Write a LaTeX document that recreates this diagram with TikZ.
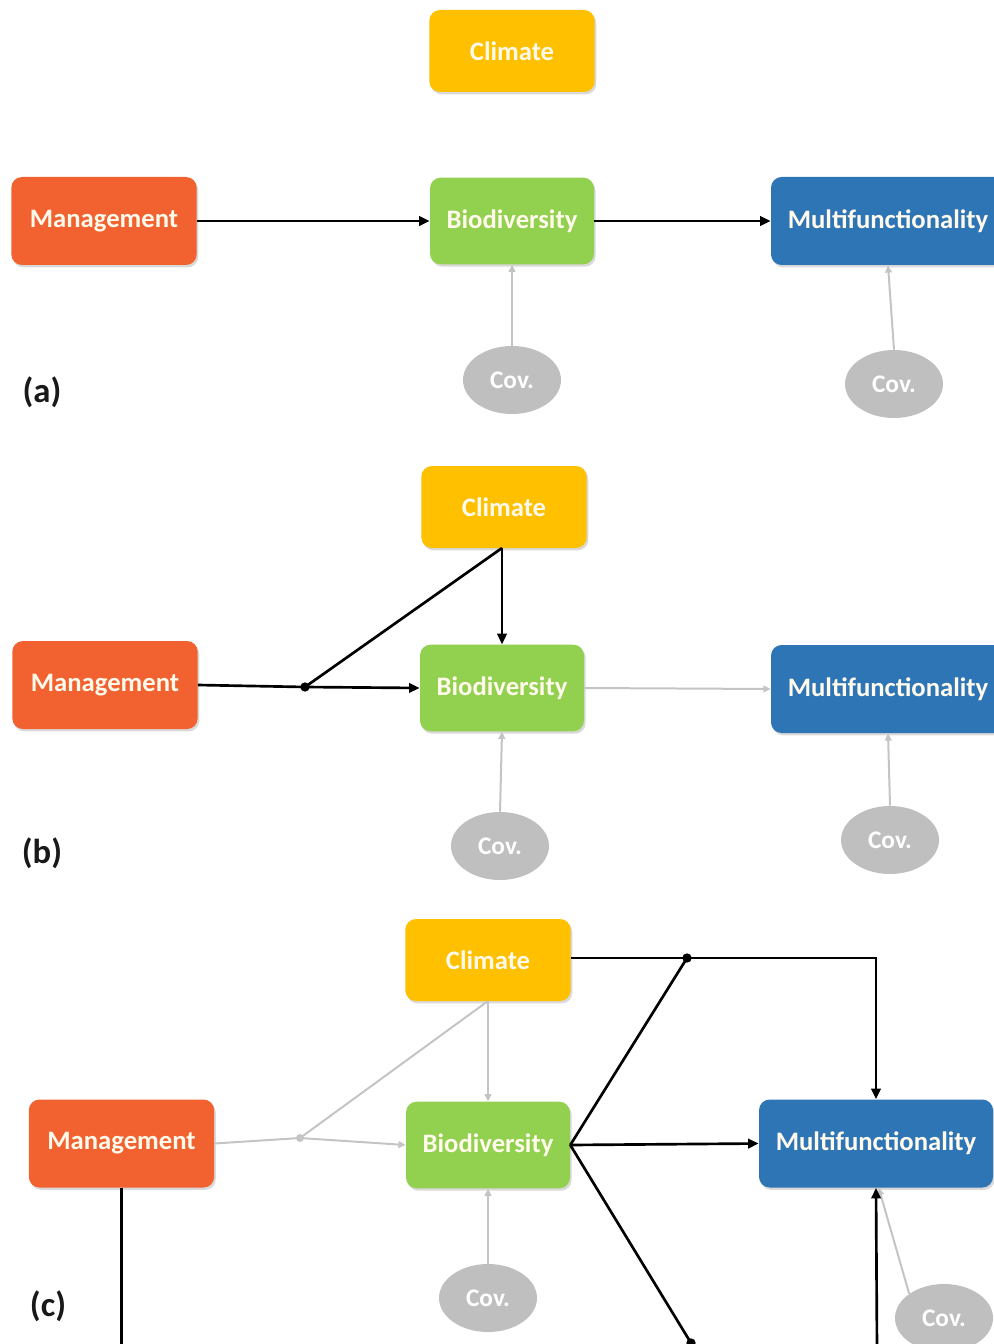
\documentclass[tikz,border=0pt]{standalone}
\usepackage{fontspec}
\setmainfont{Carlito}
\usetikzlibrary{arrows.meta,shapes.geometric,shadows}
\definecolor{mgmtcol}{RGB}{242,98,48}
\definecolor{climcol}{RGB}{255,192,0}
\definecolor{biocol}{RGB}{146,208,80}
\definecolor{multcol}{RGB}{46,117,182}
\definecolor{covcol}{RGB}{191,191,191}
\definecolor{lgray}{RGB}{196,196,196}
\definecolor{boxtext}{RGB}{255,250,235}
\begin{document}
\begin{tikzpicture}[x=0.75pt,y=-0.75pt,
  box/.style={rounded corners=8pt, minimum height=65pt, inner sep=0pt, text=boxtext,
    font=\bfseries\fontsize{20}{24}\selectfont,
    drop shadow={shadow xshift=1.2pt,shadow yshift=-1.8pt,opacity=0.3}},
  climbox/.style={box, fill=climcol, minimum width=124pt, minimum height=61.5pt},
  mgmtbox/.style={box, fill=mgmtcol, minimum width=139pt, minimum height=66pt},
  biobox/.style={box, fill=biocol, minimum width=123pt},
  multbox/.style={box, fill=multcol, minimum width=175.5pt, minimum height=66pt},
  cov/.style={ellipse, fill=covcol, minimum width=73.5pt, minimum height=51pt, inner sep=0pt,
    text=white, font=\bfseries\fontsize{19}{22}\selectfont},
  plabel/.style={font=\bfseries\fontsize{26}{30}\selectfont, text=black!90},
  blk/.style={draw=black, line width=2pt},
  blkarr/.style={blk, -{Triangle[length=8pt,width=7pt]}},
  gry/.style={draw=lgray, line width=1.5pt},
  gryarr/.style={gry, -{Triangle[length=5.5pt,width=5pt]}},
  jdot/.style={circle, fill=black, inner sep=0pt, minimum size=7pt},
  gdot/.style={circle, fill=lgray, inner sep=0pt, minimum size=6pt}
]
\useasboundingbox (0,0) rectangle (994,1344);
\clip (0,0) rectangle (994,1344);

% ---------------- panel (a)
\node[climbox] (climA) at (512,51) {Climate};
\node[mgmtbox] (mgmtA) at (104,221) {Management};
\node[biobox] (bioA) at (512,221) {Biodiversity};
\node[multbox] (multA) at (888,221) {Multifunctionality};
\node[cov] (covA1) at (512,380) {Cov.};
\node[cov] (covA2) at (894,384) {Cov.};
\node[plabel] (labA) at (42,392) {(a)};
\draw[blkarr] (mgmtA.east) -- (bioA.west);
\draw[blkarr] (bioA.east) -- (multA.west);
\draw[gryarr] (covA1.north) -- (bioA.south);
\draw[gryarr] (covA2.north) -- (multA.south);

% ---------------- panel (b)
\node[climbox] (climB) at (504,507) {Climate};
\node[mgmtbox] (mgmtB) at (105,685) {Management};
\node[biobox] (bioB) at (502,688) {Biodiversity};
\node[multbox] (multB) at (888,689) {Multifunctionality};
\node[cov] (covB1) at (500,846) {Cov.};
\node[cov] (covB2) at (890,840) {Cov.};
\node[plabel] (labB) at (42,853) {(b)};
\node[jdot] (dotB) at (305,687) {};
\coordinate (climBb) at (502,548);
\draw[blk] (mgmtB.east) -- (dotB.center);
\draw[blkarr] (dotB.center) -- (bioB.west);
\draw[blk] (climBb) -- (dotB.center);
\draw[blkarr] (climBb) -- (bioB.north);
\draw[gryarr] (bioB.east) -- (multB.west);
\draw[gryarr] (covB1.north) -- (bioB.south);
\draw[gryarr] (covB2.north) -- (multB.south);

% ---------------- panel (c)
\node[climbox] (climC) at (488,960) {Climate};
\node[mgmtbox] (mgmtC) at (121.5,1143.5) {Management};
\node[biobox] (bioC) at (488,1145) {Biodiversity};
\node[multbox] (multC) at (876,1143.5) {Multifunctionality};
\node[cov] (covC1) at (488,1298) {Cov.};
\node[cov] (covC2) at (944,1318) {Cov.};
\node[plabel] (labC) at (48,1306) {(c)};
\node[gdot] (gdotC) at (300,1138) {};
\node[jdot] (dotC1) at (687,958) {};
\node[jdot] (dotC2) at (691,1343) {};
\coordinate (climCb) at (488,1001);
\coordinate (mgmtCend) at (121.5,1350);
\coordinate (multCin) at (877,1350);
% grey paths
\draw[gry] (mgmtC.east) -- (gdotC.center);
\draw[gryarr] (gdotC.center) -- (bioC.west);
\draw[gry] (climCb) -- (gdotC.center);
\draw[gryarr] (climCb) -- (bioC.north);
\draw[gryarr] (covC1.north) -- (bioC.south);
\draw[gryarr] (covC2.north west) -- ([xshift=2pt]multC.south);
% black paths
\draw[blk] (climC.east |- dotC1) -- (dotC1.center);
\draw[blkarr] (dotC1.center) -| (multC.north);
\draw[blk] (bioC.east) -- (dotC1.center);
\draw[blkarr] (bioC.east) -- (multC.west);
\draw[blk] (bioC.east) -- (dotC2.center);
\draw[blk] (mgmtC.south) -- (mgmtCend);
\draw[blkarr] (multCin) -- (multC.south);
\end{tikzpicture}
\end{document}
